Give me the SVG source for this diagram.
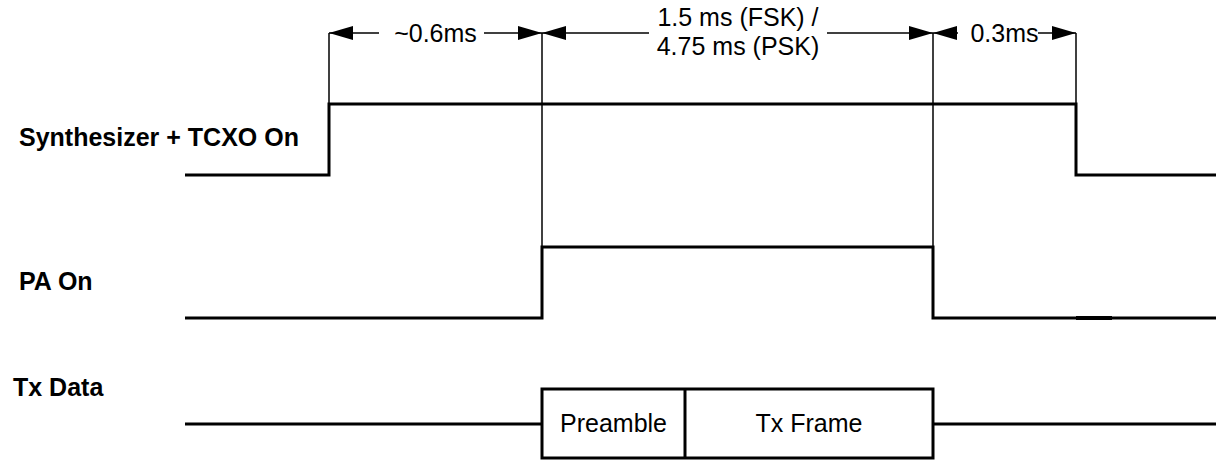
<svg xmlns="http://www.w3.org/2000/svg" width="1216" height="460" viewBox="0 0 1216 460">
  <style>
    .lbl { font-family: "Liberation Sans", Arial, sans-serif; font-size: 25px; font-weight: bold; fill: #000; }
    .txt { font-family: "Liberation Sans", Arial, sans-serif; font-size: 25px; fill: #000; }
    .sig { fill: none; stroke: #000; stroke-width: 3; stroke-linejoin: miter; }
    .thin { fill: none; stroke: #000; stroke-width: 1.5; }
    .dim { fill: none; stroke: #000; stroke-width: 1.5; marker-end: url(#ah); }
  </style>
  <defs>
    <marker id="ah" markerUnits="userSpaceOnUse" markerWidth="24" markerHeight="14" refX="24" refY="7" orient="auto">
      <path d="M0,0 L24,7 L0,14 z" fill="#000"/>
    </marker>
  </defs>
  <rect width="1216" height="460" fill="#fff"/>

  <g id="synth">
    <text class="lbl" x="19" y="146">Synthesizer + TCXO On</text>
    <polyline class="sig" points="185,175 329,175 329,104 1076,104 1076,175 1216,175"/>
  </g>

  <g id="pa">
    <text class="lbl" x="19" y="290">PA On</text>
    <polyline class="sig" points="185,318 542,318 542,247 933,247 933,318 1216,318"/>
    <line x1="1076" y1="318" x2="1112" y2="318" stroke="#000" stroke-width="4"/>
  </g>

  <g id="txdata">
    <text class="lbl" x="13" y="396">Tx Data</text>
    <line class="sig" x1="185" y1="424" x2="542" y2="424"/>
    <rect class="sig" x="542" y="389" width="391" height="69"/>
    <line class="sig" x1="685" y1="389" x2="685" y2="458"/>
    <line class="sig" x1="933" y1="424" x2="1216" y2="424"/>
  </g>

  <g id="preamble">
    <text class="txt" x="613.5" y="432" text-anchor="middle">Preamble</text>
  </g>
  <g id="txframe">
    <text class="txt" x="809" y="432" text-anchor="middle">Tx Frame</text>
  </g>

  <g id="connectors">
    <line class="thin" x1="329" y1="33" x2="329" y2="104"/>
    <line class="thin" x1="542" y1="33" x2="542" y2="247"/>
    <line class="thin" x1="933" y1="33" x2="933" y2="247"/>
    <line class="thin" x1="1076" y1="33" x2="1076" y2="104"/>

    <line class="dim" x1="379" y1="33" x2="329" y2="33"/>
    <line class="dim" x1="484" y1="33" x2="542" y2="33"/>
    <line class="dim" x1="649" y1="33" x2="542" y2="33"/>
    <line class="dim" x1="827" y1="33" x2="933" y2="33"/>
    <line class="dim" x1="958" y1="33" x2="933" y2="33"/>
    <line class="dim" x1="1038" y1="33" x2="1076" y2="33"/>
  </g>

  <g id="labels">
    <text class="txt" x="435.5" y="42" text-anchor="middle">~0.6ms</text>
    <text class="txt" x="738" y="26" text-anchor="middle">1.5 ms (FSK) /</text>
    <text class="txt" x="738" y="55" text-anchor="middle">4.75 ms (PSK)</text>
    <text class="txt" x="1004.5" y="42" text-anchor="middle">0.3ms</text>
  </g>
</svg>
